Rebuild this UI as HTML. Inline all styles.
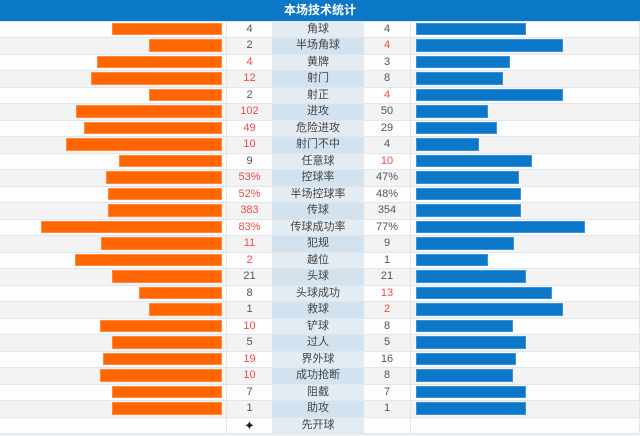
<!DOCTYPE html>
<html><head><meta charset="utf-8">
<style>
*{margin:0;padding:0;box-sizing:border-box}
html,body{width:640px;height:436px;overflow:hidden;background:#eef1f4;font-family:"Liberation Sans","Noto Sans CJK SC",sans-serif}
#wrap{position:relative;width:640px;height:436px}
.hd{position:absolute;left:0;top:0;width:640px;height:21px;background:#0b77c7;color:#fff;font-weight:bold;font-size:12px;line-height:20px;text-align:center;font-family:"Liberation Sans","Noto Sans CJK SC",sans-serif}
.r{position:absolute;left:0;width:640px;height:16.5px;border-top:1px solid #dfe6ee;background:#fdfdfd;border-right:1px solid #e2e6ea}
.r.g{background:#f3f3f3}
.r div{position:absolute;top:0;height:15.5px;line-height:15.5px;text-align:center;font-size:11px;color:#555}
.r .ln{left:226px;width:46px;border-left:1px solid #e2e6ea}
.r .lb{left:272px;width:92px;background:#e3ebf3;color:#444}
.r.g .lb{background:#d3e2ef}
.r .rn{left:364px;width:47px;border-right:1px solid #e2e6ea}
.r .lbar{top:1px;height:12.5px;background:#ff6600;border:1px solid #ff8a3d}
.r .rbar{top:1px;height:12.5px;left:416px;background:#0a77c9;border:1px solid #3d92d6}
.r .red{color:#f04a4a}
</style></head><body><div id="wrap">
<div class="hd">本场技术统计</div>

<div class="r" style="top:20.5px"><div class="lbar" style="left:112px;width:110px"></div><div class="ln">4</div><div class="lb">角球</div><div class="rn">4</div><div class="rbar" style="width:110px"></div></div>
<div class="r g" style="top:37px"><div class="lbar" style="left:149px;width:73px"></div><div class="ln">2</div><div class="lb">半场角球</div><div class="rn red">4</div><div class="rbar" style="width:147px"></div></div>
<div class="r" style="top:53.5px"><div class="lbar" style="left:97px;width:125px"></div><div class="ln red">4</div><div class="lb">黄牌</div><div class="rn">3</div><div class="rbar" style="width:94px"></div></div>
<div class="r g" style="top:70px"><div class="lbar" style="left:91px;width:131px"></div><div class="ln red">12</div><div class="lb">射门</div><div class="rn">8</div><div class="rbar" style="width:87px"></div></div>
<div class="r" style="top:86.5px"><div class="lbar" style="left:149px;width:73px"></div><div class="ln">2</div><div class="lb">射正</div><div class="rn red">4</div><div class="rbar" style="width:147px"></div></div>
<div class="r g" style="top:103px"><div class="lbar" style="left:76px;width:146px"></div><div class="ln red">102</div><div class="lb">进攻</div><div class="rn">50</div><div class="rbar" style="width:72px"></div></div>
<div class="r" style="top:119.5px"><div class="lbar" style="left:84px;width:138px"></div><div class="ln red">49</div><div class="lb">危险进攻</div><div class="rn">29</div><div class="rbar" style="width:81px"></div></div>
<div class="r g" style="top:136px"><div class="lbar" style="left:66px;width:156px"></div><div class="ln red">10</div><div class="lb">射门不中</div><div class="rn">4</div><div class="rbar" style="width:63px"></div></div>
<div class="r" style="top:152.5px"><div class="lbar" style="left:119px;width:103px"></div><div class="ln">9</div><div class="lb">任意球</div><div class="rn red">10</div><div class="rbar" style="width:116px"></div></div>
<div class="r g" style="top:169px"><div class="lbar" style="left:106px;width:116px"></div><div class="ln red">53%</div><div class="lb">控球率</div><div class="rn">47%</div><div class="rbar" style="width:103px"></div></div>
<div class="r" style="top:185.5px"><div class="lbar" style="left:108px;width:114px"></div><div class="ln red">52%</div><div class="lb">半场控球率</div><div class="rn">48%</div><div class="rbar" style="width:105px"></div></div>
<div class="r g" style="top:202px"><div class="lbar" style="left:108px;width:114px"></div><div class="ln red">383</div><div class="lb">传球</div><div class="rn">354</div><div class="rbar" style="width:105px"></div></div>
<div class="r" style="top:218.5px"><div class="lbar" style="left:41px;width:181px"></div><div class="ln red">83%</div><div class="lb">传球成功率</div><div class="rn">77%</div><div class="rbar" style="width:169px"></div></div>
<div class="r g" style="top:235px"><div class="lbar" style="left:101px;width:121px"></div><div class="ln red">11</div><div class="lb">犯规</div><div class="rn">9</div><div class="rbar" style="width:98px"></div></div>
<div class="r" style="top:251.5px"><div class="lbar" style="left:75px;width:147px"></div><div class="ln red">2</div><div class="lb">越位</div><div class="rn">1</div><div class="rbar" style="width:72px"></div></div>
<div class="r g" style="top:268px"><div class="lbar" style="left:112px;width:110px"></div><div class="ln">21</div><div class="lb">头球</div><div class="rn">21</div><div class="rbar" style="width:110px"></div></div>
<div class="r" style="top:284.5px"><div class="lbar" style="left:139px;width:83px"></div><div class="ln">8</div><div class="lb">头球成功</div><div class="rn red">13</div><div class="rbar" style="width:136px"></div></div>
<div class="r g" style="top:301px"><div class="lbar" style="left:149px;width:73px"></div><div class="ln">1</div><div class="lb">救球</div><div class="rn red">2</div><div class="rbar" style="width:147px"></div></div>
<div class="r" style="top:317.5px"><div class="lbar" style="left:100px;width:122px"></div><div class="ln red">10</div><div class="lb">铲球</div><div class="rn">8</div><div class="rbar" style="width:97px"></div></div>
<div class="r g" style="top:334px"><div class="lbar" style="left:112px;width:110px"></div><div class="ln">5</div><div class="lb">过人</div><div class="rn">5</div><div class="rbar" style="width:110px"></div></div>
<div class="r" style="top:350.5px"><div class="lbar" style="left:103px;width:119px"></div><div class="ln red">19</div><div class="lb">界外球</div><div class="rn">16</div><div class="rbar" style="width:100px"></div></div>
<div class="r g" style="top:367px"><div class="lbar" style="left:100px;width:122px"></div><div class="ln red">10</div><div class="lb">成功抢断</div><div class="rn">8</div><div class="rbar" style="width:97px"></div></div>
<div class="r" style="top:383.5px"><div class="lbar" style="left:112px;width:110px"></div><div class="ln">7</div><div class="lb">阻截</div><div class="rn">7</div><div class="rbar" style="width:110px"></div></div>
<div class="r g" style="top:400px"><div class="lbar" style="left:112px;width:110px"></div><div class="ln">1</div><div class="lb">助攻</div><div class="rn">1</div><div class="rbar" style="width:110px"></div></div>
<div class="r" style="top:416.5px;border-bottom:1px solid #dfe6ee;height:17px"><div class="ln" style="color:#222;font-size:13px">✦</div><div class="lb">先开球</div><div class="rn"></div></div>
</div></body></html>
